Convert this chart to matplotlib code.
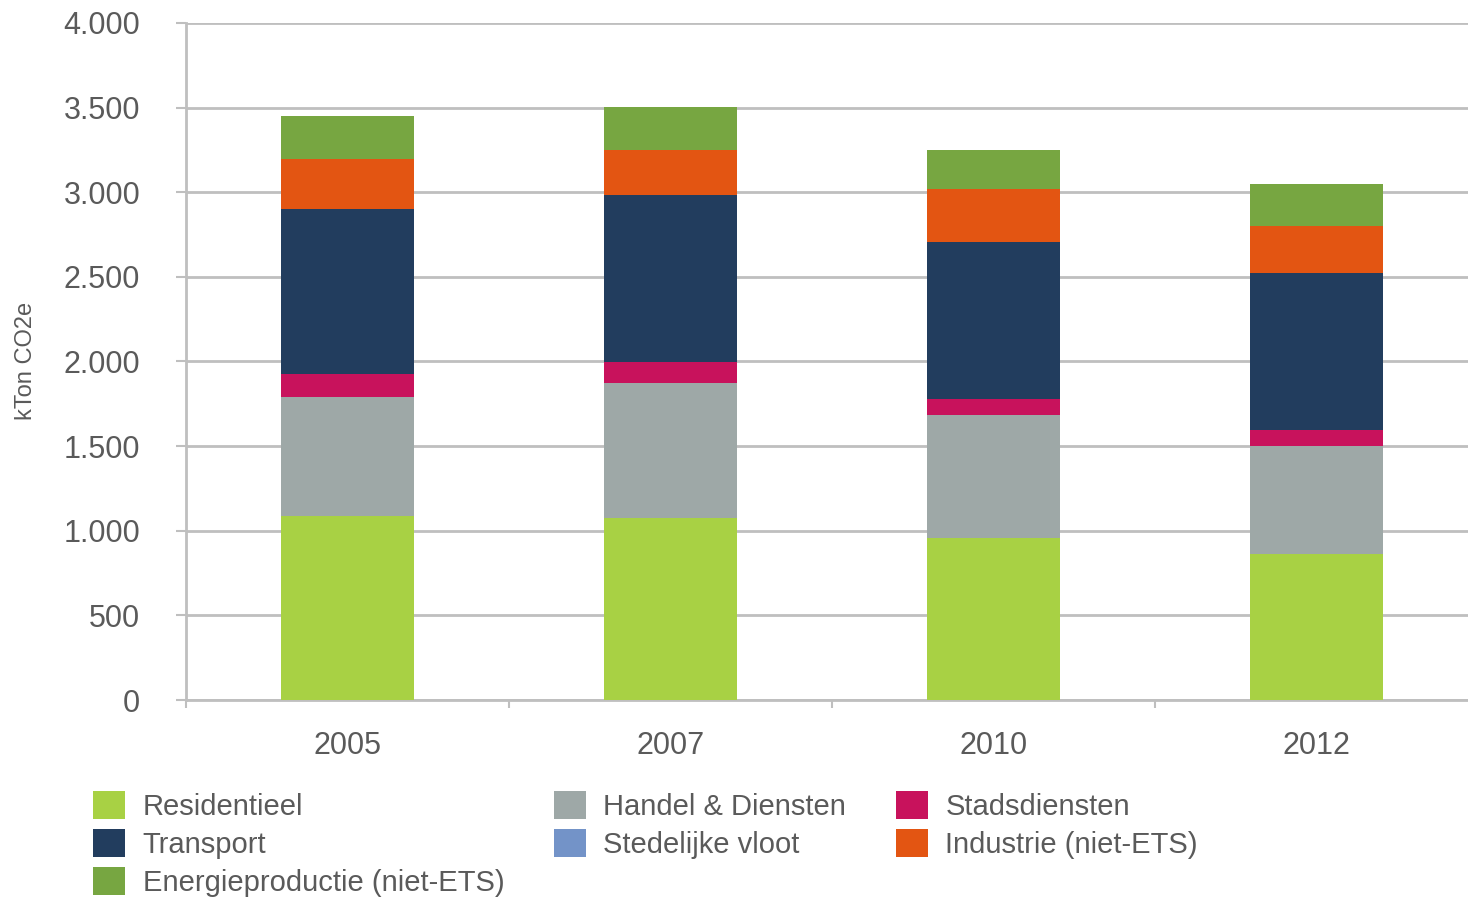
import matplotlib
matplotlib.use("Agg")
import matplotlib.pyplot as plt
from matplotlib.ticker import FuncFormatter, FixedLocator
from matplotlib.patches import Patch
import numpy as np

years = ["2005", "2007", "2010", "2012"]

residentieel = [1085, 1075, 960, 865]
handel = [705, 800, 725, 635]
stadsdiensten = [136, 124, 95, 95]
stedelijke_vloot = [0, 0, 0, 0]
transport = [975, 987, 928, 928]
industrie = [296, 266, 313, 278]
energie = [254, 254, 230, 248]

series = [
    ("Residentieel", residentieel, "#a8d144"),
    ("Handel & Diensten", handel, "#9ea8a7"),
    ("Stadsdiensten", stadsdiensten, "#c8125c"),
    ("Stedelijke vloot", stedelijke_vloot, "#7393c8"),
    ("Transport", transport, "#223d5e"),
    ("Industrie (niet-ETS)", industrie, "#e35512"),
    ("Energieproductie (niet-ETS)", energie, "#77a641"),
]

text_color = "#5a5a5a"
grid_color = "#bfbfbf"
plt.rcParams['font.family'] = ['Liberation Sans', 'DejaVu Sans']

fig = plt.figure(figsize=(14.68, 8.97), dpi=100)
ax = fig.add_axes([186 / 1468, 1 - 700 / 897, 1292 / 1468, 677 / 897])

x = np.arange(len(years))
bottom = np.zeros(len(years))
for name, vals, col in series:
    vals = np.array(vals, dtype=float)
    ax.bar(x, vals, width=0.41, bottom=bottom, color=col, label=name,
           zorder=3, linewidth=0)
    bottom += vals

ax.set_xlim(-0.5, 3.5)
ax.set_ylim(0, 4000)
ax.set_yticks(np.arange(0, 4001, 500))
ax.yaxis.set_major_formatter(FuncFormatter(lambda v, p: f"{int(v):,}".replace(",", ".")))
ax.grid(axis="y", color=grid_color, linewidth=2, zorder=0)
ax.set_xticks(x)
ax.set_xticklabels(years)
ax.xaxis.set_minor_locator(FixedLocator([-0.5, 0.5, 1.5, 2.5]))

for s in ["top", "right"]:
    ax.spines[s].set_visible(False)
for s in ["left", "bottom"]:
    ax.spines[s].set_color(grid_color)
    ax.spines[s].set_linewidth(2)

ax.tick_params(axis="y", length=7, width=1.5, color=grid_color, pad=26,
               labelsize=22, labelcolor=text_color)
ax.tick_params(axis="x", which="major", length=0, pad=22,
               labelsize=22, labelcolor=text_color)
ax.tick_params(axis="x", which="minor", length=6, width=1.5, color=grid_color)

fig.text(26 / 1468, 1 - 361 / 897, "kTon CO2e", rotation=90, ha="center",
         va="center", fontsize=17, color=text_color)

# legend order: filled column by column, like the original
order = ["Residentieel", "Transport", "Energieproductie (niet-ETS)",
         "Handel & Diensten", "Stedelijke vloot",
         "Stadsdiensten", "Industrie (niet-ETS)"]
colors = {n: c for n, _, c in series}
leg_handles = [Patch(facecolor=colors[n]) for n in order]
leg = fig.legend(leg_handles, order, loc="upper left",
                 bbox_to_anchor=(93 / 1468, 1 - 791 / 897), ncol=3,
                 frameon=False, fontsize=21, handlelength=1.1, handleheight=1.1,
                 handletextpad=0.6, columnspacing=1.7, labelspacing=0.27,
                 borderpad=0, borderaxespad=0)
for t in leg.get_texts():
    t.set_color(text_color)

fig.savefig("out.png", dpi=100)
